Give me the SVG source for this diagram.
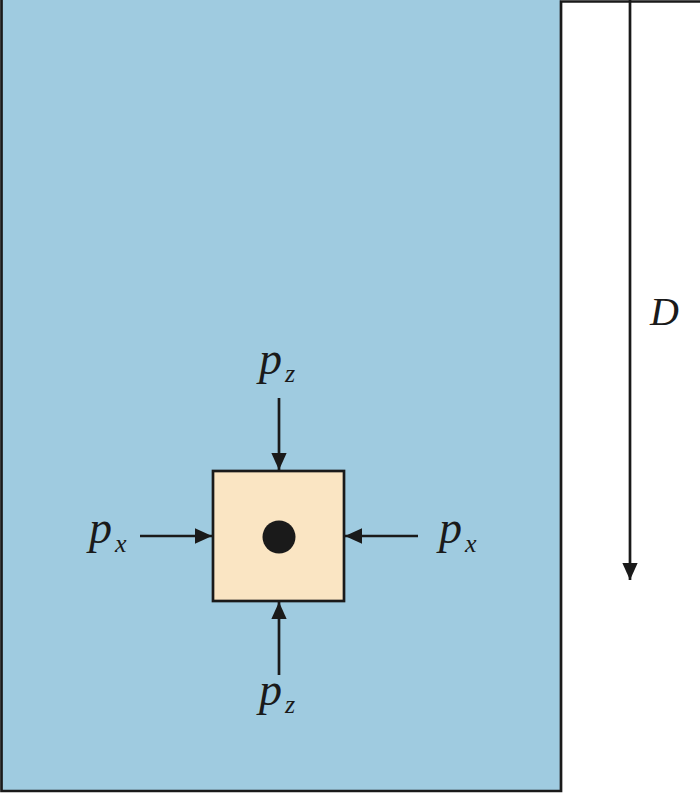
<svg xmlns="http://www.w3.org/2000/svg" width="700" height="793" viewBox="0 0 700 793">
<defs>
<style>
.ln{stroke:#1a1a1a;stroke-width:2.7;fill:none}
.lbl{font-family:"Liberation Serif","DejaVu Serif",serif;font-style:italic;fill:#1a1a1a}
.big{font-size:46px}
.sub{font-size:26px}
</style>
<marker id="ah2" viewBox="0 0 10 10" refX="10" refY="5" markerWidth="17" markerHeight="17" markerUnits="userSpaceOnUse" orient="auto">
<path d="M0,0.5 L10,5 L0,9.5 z" fill="#1a1a1a"/>
</marker>
</defs>
<rect width="700" height="793" fill="#ffffff"/>
<g id="container">
<rect x="1" y="0" width="560" height="791" fill="#9FCBE0"/>
<path class="ln" d="M1.5,0 V791 H561 V1.5 H700" stroke-width="2.7"/>
</g>
<g id="element">
<rect x="213" y="471" width="131" height="130" fill="#FAE5C3" stroke="#1a1a1a" stroke-width="2.7"/>
<circle cx="279" cy="537" r="16.5" fill="#1a1a1a"/>
</g>
<g id="connectors">
<line class="ln" x1="279" y1="398" x2="279" y2="470" marker-end="url(#ah2)"/>
<line class="ln" x1="279" y1="675" x2="279" y2="602" marker-end="url(#ah2)"/>
<line class="ln" x1="140" y1="536" x2="212" y2="536" marker-end="url(#ah2)"/>
<line class="ln" x1="418" y1="536" x2="345" y2="536" marker-end="url(#ah2)"/>
<line class="ln" x1="630" y1="0" x2="630" y2="580" marker-end="url(#ah2)"/>
</g>
<g id="labels">
<text class="lbl" x="259" y="374"><tspan class="big">p</tspan><tspan class="sub" dx="3" dy="8">z</tspan></text>
<text class="lbl" x="259" y="705"><tspan class="big">p</tspan><tspan class="sub" dx="3" dy="8">z</tspan></text>
<text class="lbl" x="89" y="543"><tspan class="big">p</tspan><tspan class="sub" dx="3" dy="9">x</tspan></text>
<text class="lbl" x="439" y="543"><tspan class="big">p</tspan><tspan class="sub" dx="3" dy="9">x</tspan></text>
<text class="lbl" x="650" y="325" font-size="40">D</text>
</g>
</svg>
